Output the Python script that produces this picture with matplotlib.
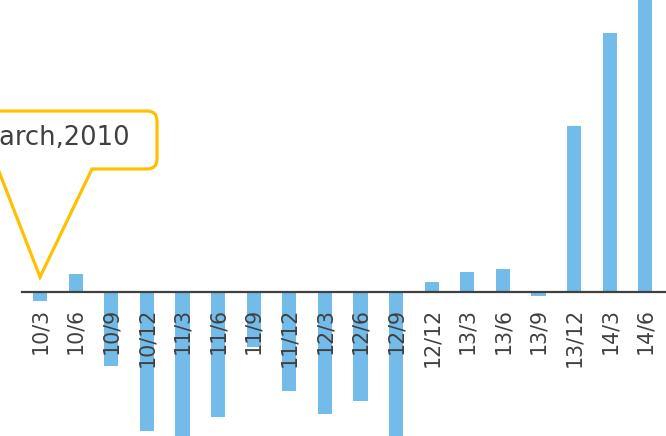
import matplotlib.pyplot as plt
import matplotlib.transforms as mtransforms
from matplotlib.path import Path
from matplotlib.patches import PathPatch

quarters = ['10/3', '10/6', '10/9', '10/12', '11/3', '11/6', '11/9', '11/12', '12/3',
            '12/6', '12/9', '12/12', '13/3', '13/6', '13/9', '13/12', '14/3', '14/6']
values = [-8.7, 17.7, -73.7, -139, -146, -125, -55, -99, -122,
          -109, -148, 9.7, 19.7, 22.7, -4, 166, 259, 300]
callout_text = 'March,2010'

barColor = '#73BBE8'
textColor = '#404040'
calloutColor = '#FFC000'

fig = plt.figure(figsize=(6.66, 4.36), dpi=100)
ax = fig.add_axes([0, 0, 1, 1])

x = list(range(len(quarters)))
ax.bar(x, values, width=0.4, color=barColor, zorder=1)

ax.set_xlim(-1.124, 17.58)
ax.set_ylim(-144, 292)

# zero line acts as the category axis, labels hang below it
for s in ['top', 'right', 'left']:
    ax.spines[s].set_visible(False)
ax.spines['bottom'].set_position(('data', 0))
ax.spines['bottom'].set_bounds(-0.5, 17.6)
ax.spines['bottom'].set_color(textColor)
ax.spines['bottom'].set_linewidth(1.6)
ax.set_yticks([])
ax.set_xticks(x)
ax.set_xticklabels(quarters, rotation=90, fontsize=14.8, color=textColor)
ax.tick_params(axis='x', length=0, pad=11.5)
for lbl in ax.get_xticklabels():
    lbl.set_verticalalignment('top')

# speech-bubble callout pointing at the first quarter (offsets in pixels)
tip = (0, 15)
r = 10
left, right, bot, top = -80, 117, 108, 166
verts = [(0, 0), (52, bot), (right - r, bot), (right, bot), (right, bot + r),
         (right, top - r), (right, top), (right - r, top),
         (left + r, top), (left, top), (left, top - r),
         (left, bot + r), (left, bot), (left + r, bot),
         (-42, bot), (0, 0)]
codes = [Path.MOVETO, Path.LINETO, Path.LINETO, Path.CURVE3, Path.CURVE3,
         Path.LINETO, Path.CURVE3, Path.CURVE3,
         Path.LINETO, Path.CURVE3, Path.CURVE3,
         Path.LINETO, Path.CURVE3, Path.CURVE3,
         Path.LINETO, Path.CLOSEPOLY]
trans = mtransforms.IdentityTransform() + mtransforms.ScaledTranslation(tip[0], tip[1], ax.transData)
bubble = PathPatch(Path(verts, codes), facecolor='white', edgecolor=calloutColor,
                   linewidth=2.3, joinstyle='miter', transform=trans, zorder=3)
ax.add_patch(bubble)
ax.annotate(callout_text, xy=tip, xycoords='data', xytext=(90, 139),
            textcoords='offset pixels', ha='right', va='center',
            fontsize=18.5, color=textColor, zorder=4)

fig.savefig('out.png', dpi=100)
